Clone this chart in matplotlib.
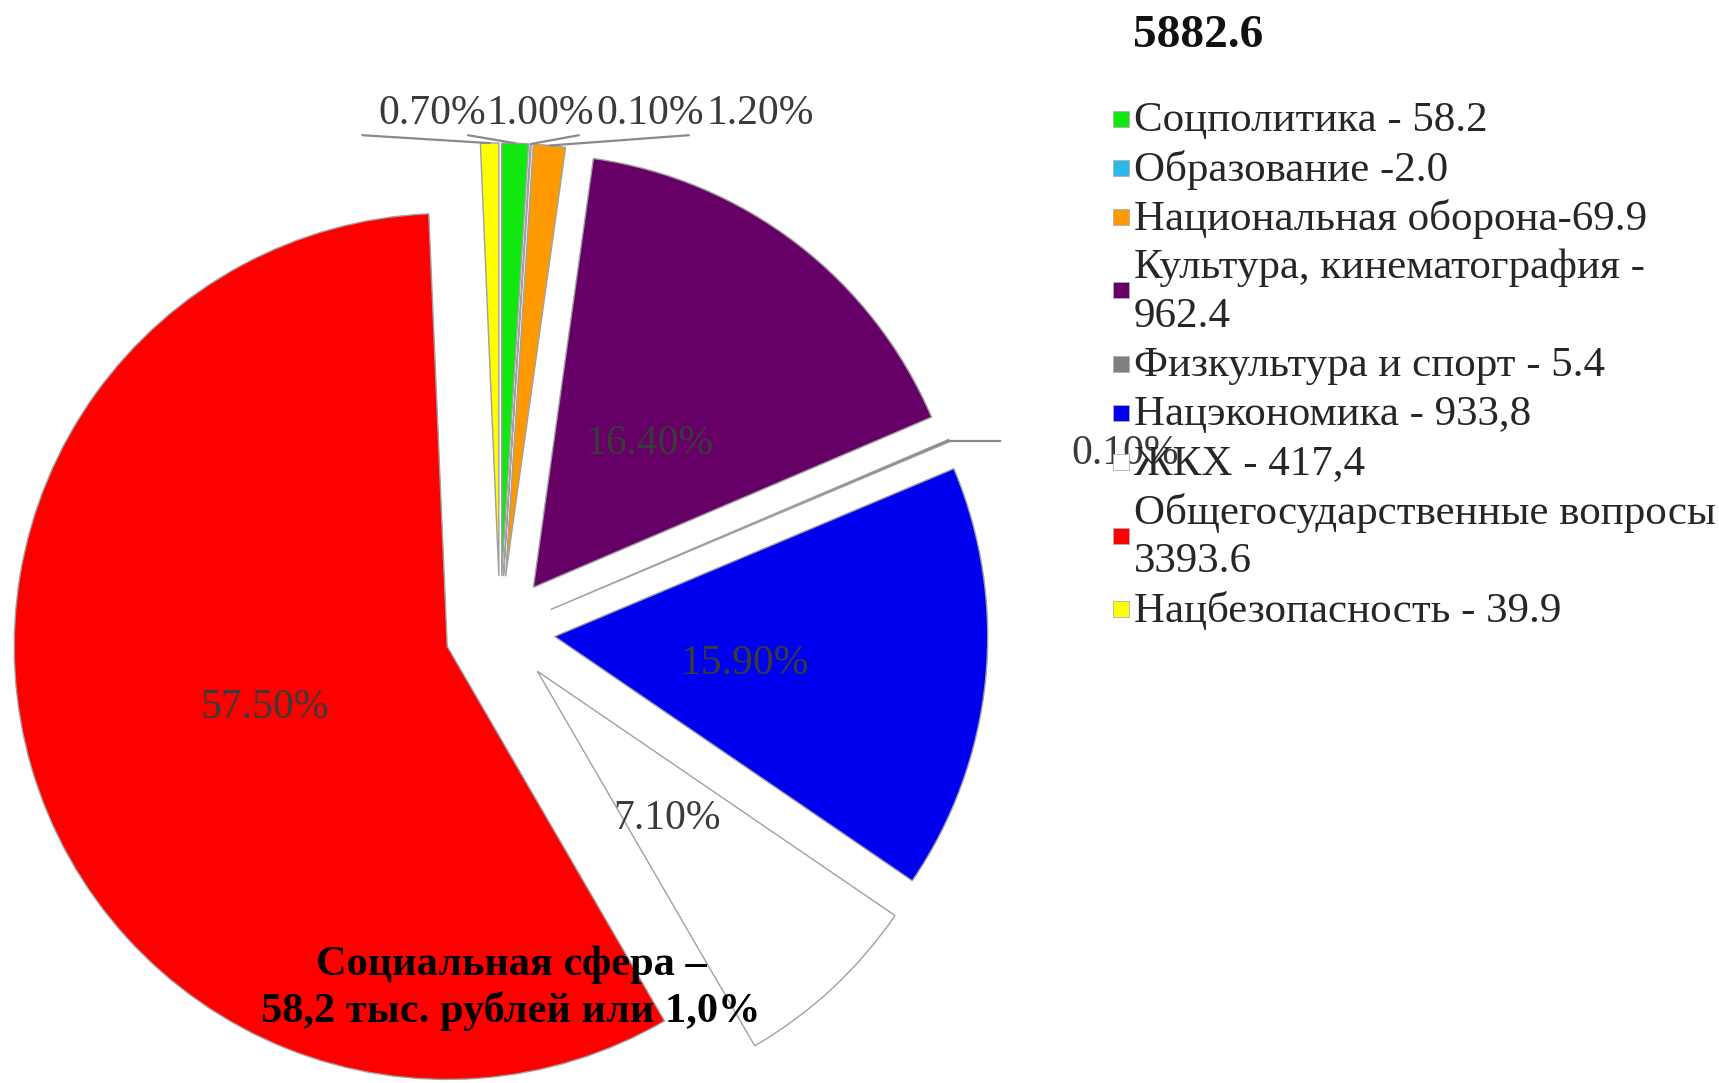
import matplotlib
matplotlib.use("Agg")
import matplotlib.pyplot as plt
import numpy as np
from matplotlib.patches import Rectangle

# ---------------- data ----------------
categories = ["Соцполитика", "Образование", "Национальная оборона",
              "Культура, кинематография", "Физкультура и спорт", "Нацэкономика",
              "ЖКХ", "Общегосударственные вопросы", "Нацбезопасность"]
values = [58.2, 2.0, 69.9, 962.4, 5.4, 933.8, 417.4, 3393.6, 39.9]
pct_labels = ["1.00%", "0.10%", "1.20%", "16.40%", "0.10%", "15.90%", "7.10%", "57.50%", "0.70%"]
legend_labels = ["Соцполитика - 58.2", "Образование -2.0", "Национальная оборона-69.9",
                 "Культура, кинематография -\n962.4", "Физкультура и спорт - 5.4",
                 "Нацэкономика - 933,8", "ЖКХ - 417,4",
                 "Общегосударственные вопросы\n3393.6", "Нацбезопасность - 39.9"]
total_label = "5882.6"
note_text = "Социальная сфера –\n58,2 тыс. рублей или 1,0%"

colors = ["#10e810", "#2cb8ea", "#ff9900", "#660066", "#808080",
          "#0000f0", "#ffffff", "#ff0000", "#ffff00"]

# ---------------- layout ----------------
W, H = 1719, 1083
CX, CY = 500, 631          # pie centre, pixels from top-left
R = 433                    # pie radius in pixels
EXPLODE = 0.127
SERIF = "Liberation Serif"

fig = plt.figure(figsize=(W / 100, H / 100), dpi=100)
ax = fig.add_axes([0, 0, 1, 1])

wedges, _ = ax.pie(values, colors=colors, startangle=90, counterclock=False,
                   explode=[EXPLODE] * len(values), radius=1,
                   wedgeprops=dict(edgecolor="#a0a0a0", linewidth=1.0))
ax.set_aspect("auto")
ax.set_xlim(-CX / R, (W - CX) / R)
ax.set_ylim(-(H - CY) / R, CY / R)
ax.axis("off")


def wedge_geom(w):
    ang = np.deg2rad((w.theta1 + w.theta2) / 2)
    d = np.array([np.cos(ang), np.sin(ang)])
    return np.array(w.center), d

label_color = "#3a3a3a"
# inside labels
for i in [3, 5, 6, 7]:
    c, d = wedge_geom(wedges[i])
    p = c + 0.44 * d
    ax.text(p[0], p[1] - 0.018, pct_labels[i], ha="center", va="center",
            fontsize=30, family=SERIF, color=label_color)

# top labels with leader lines (yellow, green, edu, orange)
top_order = [8, 0, 1, 2]
text_x = [-0.157, 0.092, 0.346, 0.600]
anchor_x = [-0.318, -0.074, 0.182, 0.436]
text_y, anchor_y = 1.194, 1.145
for k, i in enumerate(top_order):
    c, d = wedge_geom(wedges[i])
    tip = c + 1.0 * d
    ax.plot([anchor_x[k], tip[0]], [anchor_y, tip[1]], color="#8a8a8a", lw=1.6,
            solid_capstyle="round")
    ax.text(text_x[k], text_y, pct_labels[i], ha="center", va="center",
            fontsize=30, family=SERIF, color=label_color)

# Физкультура label on the right
c, d = wedge_geom(wedges[4])
tip = c + 1.0 * d
end_x = (1000 - CX) / R
ax.plot([tip[0], end_x], [tip[1], tip[1]], color="#8a8a8a", lw=1.6)
ax.text((1071 - CX) / R, (CY - 454) / R, pct_labels[4], ha="left", va="center",
        fontsize=30, family=SERIF, color=label_color)

# ---------------- legend (manual) ----------------
def fx(x):
    return x / W

def fy(y):
    return 1 - y / H

fig.text(fx(1198), fy(36), total_label, ha="center", va="center",
         fontsize=34, fontweight="bold", family=SERIF, color="#111111")

line_h = 49
y = 121
sq = 16
for lab, col in zip(legend_labels, colors):
    lines = lab.split("\n")
    yc = y + (len(lines) - 1) * line_h / 2
    fig.patches.append(Rectangle((fx(1113), fy(yc + sq / 2 - 2)), sq / W, sq / H,
                                 transform=fig.transFigure, facecolor=col,
                                 edgecolor="#b0b0b0", linewidth=0.6))
    for ln in lines:
        fig.text(fx(1134), fy(y), ln, ha="left", va="center", fontsize=31,
                 family=SERIF, color="#262626")
        y += line_h

# bottom annotation
note_lines = note_text.split("\n")
for j, ln in enumerate(note_lines):
    fig.text(fx(511), fy(965 + 46 * j), ln, ha="center", va="center", fontsize=30.5,
             fontweight="bold", family=SERIF, color="black")

fig.savefig("out.png", dpi=100)
